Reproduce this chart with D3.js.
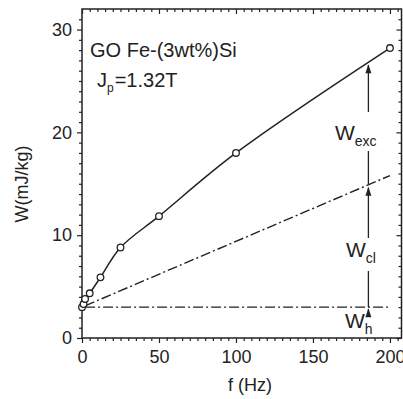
<!DOCTYPE html>
<html>
<head>
<meta charset="utf-8">
<script src="https://cdn.jsdelivr.net/npm/d3@7"></script>
<style>
  html, body { margin: 0; padding: 0; background: #fff; overflow: hidden; }
  svg { display: block; }
  text { font-family: "Liberation Sans", Arial, Helvetica, sans-serif; fill: #222; }
</style>
</head>
<body>
<div id="chart"></div>
<script>
// ---- data ----
const freq = [0, 1, 2, 5, 12, 25, 50, 100, 200];             // f (Hz)
const wTotal = [3.0, 3.3, 3.8, 4.35, 5.9, 8.8, 11.85, 18.0, 28.2]; // W (mJ/kg)
const wHyst = 3.0;                 // W_h level
const wClStart = [2, 3.13];        // classical loss line start (f, W)
const wClEnd = [200, 15.8];        // classical loss line end (f, W)
const wHystLine = [[2, 3.0], [200, 3.0]];
const xMajor = [0, 50, 100, 150, 200];
const yMajor = [0, 10, 20, 30];
const arrowF = 186;
const titleLine1 = "GO Fe-(3wt%)Si";

// ---- layout ----
const W = 403, H = 399;
const x = d3.scaleLinear().domain([0, 207.5]).range([82, 401.5]);
const y = d3.scaleLinear().domain([0, 32]).range([338, 9]);

const svg = d3.select("#chart").append("svg").attr("width", W).attr("height", H);
const ink = "#222";

// frame
svg.append("rect")
  .attr("x", x(0)).attr("y", y(32))
  .attr("width", x(207.5) - x(0)).attr("height", y(0) - y(32))
  .attr("fill", "none").attr("stroke", ink).attr("stroke-width", 1.5);

function styleAxis(g) {
  g.select(".domain").remove();
  g.selectAll("line").attr("stroke", ink).attr("stroke-width", 1.2);
  g.selectAll("text").style("font-size", "18px").attr("fill", ink);
}

const xMinor = d3.range(0, 207, 5).filter(v => v % 50 !== 0);
const yMinor = d3.range(0, 32, 1).filter(v => v % 10 !== 0);

// bottom
svg.append("g").attr("transform", `translate(0,${y(0)})`)
  .call(d3.axisBottom(x).tickValues(xMajor).tickSize(5).tickPadding(7).tickFormat(d3.format("d")))
  .call(styleAxis);
svg.append("g").attr("transform", `translate(0,${y(0)})`)
  .call(d3.axisBottom(x).tickValues(xMinor).tickSize(3).tickFormat(""))
  .call(styleAxis);
// top (inward)
svg.append("g").attr("transform", `translate(0,${y(32)})`)
  .call(d3.axisTop(x).tickValues(xMajor).tickSize(-5).tickFormat(""))
  .call(styleAxis);
svg.append("g").attr("transform", `translate(0,${y(32)})`)
  .call(d3.axisTop(x).tickValues(xMinor).tickSize(-3).tickFormat(""))
  .call(styleAxis);
// left
svg.append("g").attr("transform", `translate(${x(0)},0)`)
  .call(d3.axisLeft(y).tickValues(yMajor).tickSize(5).tickPadding(5).tickFormat(d3.format("d")))
  .call(styleAxis);
svg.append("g").attr("transform", `translate(${x(0)},0)`)
  .call(d3.axisLeft(y).tickValues(yMinor).tickSize(3).tickFormat(""))
  .call(styleAxis);
// right (inward)
svg.append("g").attr("transform", `translate(${x(207.5)},0)`)
  .call(d3.axisRight(y).tickValues(yMajor).tickSize(-5).tickFormat(""))
  .call(styleAxis);
svg.append("g").attr("transform", `translate(${x(207.5)},0)`)
  .call(d3.axisRight(y).tickValues(yMinor).tickSize(-3).tickFormat(""))
  .call(styleAxis);

// axis titles
svg.append("text").attr("x", 250).attr("y", 391).attr("text-anchor", "middle")
  .style("font-size", "18px").text("f (Hz)");
svg.append("text").attr("transform", "translate(28,184) rotate(-90)")
  .attr("text-anchor", "middle").style("font-size", "18px").text("W(mJ/kg)");

// dash-dot lines
const dashDot = "10,3,2,3";
svg.append("line")
  .attr("x1", x(wHystLine[0][0])).attr("y1", y(wHystLine[0][1]))
  .attr("x2", x(wHystLine[1][0])).attr("y2", y(wHystLine[1][1]))
  .attr("stroke", ink).attr("stroke-width", 1.4).attr("stroke-dasharray", dashDot);
svg.append("line")
  .attr("x1", x(wClStart[0])).attr("y1", y(wClStart[1]))
  .attr("x2", x(wClEnd[0])).attr("y2", y(wClEnd[1]))
  .attr("stroke", ink).attr("stroke-width", 1.4).attr("stroke-dasharray", dashDot);

// total loss curve
const pts = freq.map((f, i) => [f, wTotal[i]]);
const line = d3.line().x(d => x(d[0])).y(d => y(d[1])).curve(d3.curveCatmullRom.alpha(0.5));
const path = svg.append("path").datum(pts).attr("d", line)
  .attr("fill", "none").attr("stroke", ink).attr("stroke-width", 1.5);

svg.selectAll("circle.pt").data(pts).enter().append("circle")
  .attr("class", "pt")
  .attr("cx", d => x(d[0])).attr("cy", d => y(d[1])).attr("r", 3.3)
  .attr("fill", "#fff").attr("stroke", ink).attr("stroke-width", 1.3);

// total value at arrowF, from curve path
function curveYAt(px) {
  const node = path.node();
  const len = node.getTotalLength();
  let lo = 0, hi = len;
  for (let i = 0; i < 40; i++) {
    const mid = (lo + hi) / 2;
    if (node.getPointAtLength(mid).x < px) lo = mid; else hi = mid;
  }
  return node.getPointAtLength(lo).y;
}

const ax = x(arrowF);
const yTot = curveYAt(ax);
const clSlope = (wClEnd[1] - wClStart[1]) / (wClEnd[0] - wClStart[0]);
const yCl = y(wClStart[1] + clSlope * (arrowF - wClStart[0]));
const yH = y(wHyst);

function vseg(y1, y2) {
  svg.append("line").attr("x1", ax).attr("x2", ax).attr("y1", y1).attr("y2", y2)
    .attr("stroke", ink).attr("stroke-width", 1.3);
}
function headUp(tipY) {
  svg.append("path")
    .attr("d", `M${ax},${tipY} L${ax - 3},${tipY + 9} L${ax + 3},${tipY + 9} Z`)
    .attr("fill", ink);
}

// W_exc arrow
vseg(yTot + 3, 112); vseg(151, yCl);
headUp(yTot + 2);
// W_cl arrow
vseg(yCl + 3, 238); vseg(271, yH);
headUp(yCl + 2);
// W_h arrow
vseg(yH + 2, 317);
headUp(yH + 1);

function subLabel(xPos, baseY, main, sub) {
  const t = svg.append("text").attr("x", xPos).attr("y", baseY).style("font-size", "21px");
  t.append("tspan").text(main);
  t.append("tspan").attr("dy", 6).style("font-size", "14px").text(sub);
}
subLabel(335, 140, "W", "exc");
subLabel(346, 257, "W", "cl");
subLabel(345, 328, "W", "h");

// annotation text
svg.append("text").attr("x", 90).attr("y", 57).style("font-size", "20px").text(titleLine1);
const jt = svg.append("text").attr("x", 97).attr("y", 87).style("font-size", "20px");
jt.append("tspan").text("J");
jt.append("tspan").attr("dy", 5).style("font-size", "12px").text("p");
jt.append("tspan").attr("dy", -5).attr("dx", 1).text("=1.32T");
</script>
</body>
</html>
